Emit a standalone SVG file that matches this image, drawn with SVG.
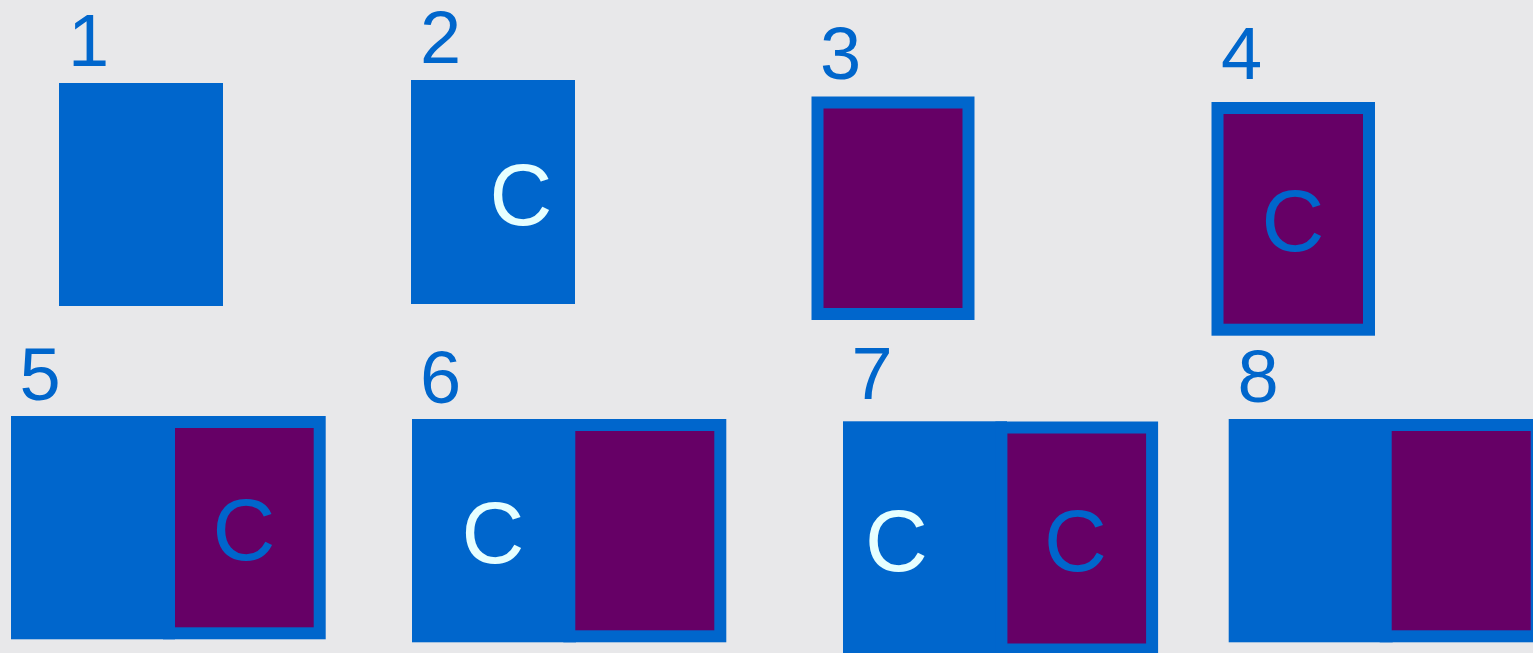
<svg xmlns="http://www.w3.org/2000/svg" width="1533" height="653" viewBox="0 0 1533 653">
<style>
.bg{fill:#E8E8EA}
.blue{fill:#0066CC}
.box{fill:#660066;stroke:#0066CC;stroke-width:12}
.num{font-family:"Liberation Sans",Arial,sans-serif;font-size:74px;fill:#0066CC}
.c{font-family:"Liberation Sans",Arial,sans-serif;font-size:87px;text-anchor:middle}
.cw{fill:#E6FFFF}
.cb{fill:#0066CC}
</style>
<rect class="bg" x="0" y="0" width="1533" height="653"/>
<g id="panel1">
<text class="num" x="68" y="66">1</text>
<rect class="blue" x="59" y="83" width="164" height="223"/>
</g>
<g id="panel2">
<text class="num" x="420" y="62.5">2</text>
<rect class="blue" x="411" y="80" width="164" height="224"/>
<text class="c cw" x="521" y="224.5">C</text>
</g>
<g id="panel3">
<text class="num" x="820" y="79">3</text>
<rect class="box" x="817.5" y="102.5" width="151" height="211.5"/>
</g>
<g id="panel4">
<text class="num" x="1221" y="79">4</text>
<rect class="box" x="1217.5" y="108" width="151.5" height="221.7"/>
<text class="c cb" x="1293" y="251">C</text>
</g>
<g id="panel5">
<text class="num" x="19.5" y="400">5</text>
<rect class="blue" x="11" y="416" width="164" height="223.3"/>
<rect class="box" x="169" y="422" width="150.7" height="211.3"/>
<text class="c cb" x="243.8" y="559.8">C</text>
</g>
<g id="panel6">
<text class="num" x="420" y="403">6</text>
<rect class="blue" x="412" y="419" width="164" height="223.3"/>
<rect class="box" x="569.3" y="425" width="151" height="211.3"/>
<text class="c cw" x="493" y="563">C</text>
</g>
<g id="panel7">
<text class="num" x="851.5" y="399">7</text>
<rect class="blue" x="843" y="421.3" width="164" height="234"/>
<rect class="box" x="1001.4" y="427.5" width="150.7" height="222"/>
<text class="c cw" x="896.5" y="571">C</text>
<text class="c cb" x="1075.4" y="571">C</text>
</g>
<g id="panel8">
<text class="num" x="1237.5" y="401.7">8</text>
<rect class="blue" x="1228.7" y="419" width="164" height="223.3"/>
<rect class="box" x="1385.7" y="425" width="151" height="211.3"/>
</g>
</svg>
